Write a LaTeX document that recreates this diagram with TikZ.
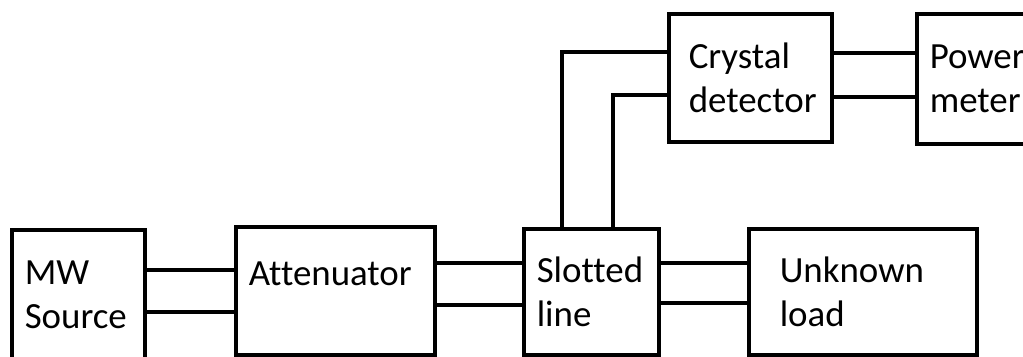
\documentclass[tikz,border=0pt]{standalone}
\usepackage{fontspec}
\setmainfont[Ligatures=NoCommon]{Carlito}
\usepackage{tikz}

\begin{document}
\begin{tikzpicture}[x=0.03cm, y=-0.03cm,
    blk/.style={draw, line width=3pt, anchor=north west, align=left,
      inner xsep=0.39cm, minimum height=3.84cm,
      font=\fontsize{31.5}{38}\selectfont},
    wg/.style={line width=3pt}]
  \useasboundingbox (0,0) rectangle (1023,356);
  % Blocks
  \node[blk, text width=3.21cm, minimum height=3.9cm] (src) at (10,228) {MW\\Source};
  \node[blk, text width=5.19cm] (att) at (234,225) {Attenuator\\[-8pt]\mbox{}};
  \node[blk, text width=3.27cm, minimum height=3.78cm] (sl) at (522,227) {Slotted\\line};
  \node[blk, text width=4.98cm, inner xsep=0.93cm, minimum height=3.78cm] (load) at (747,227) {Unknown\\load};
  \node[blk, text width=3.69cm, inner xsep=0.6cm] (cd) at (667,12) {Crystal\\detector};
  \node[blk, text width=3.57cm, minimum height=3.9cm] (pm) at (915,12) {Power\\meter};
  % Two-wire links along the main line
  \draw[wg] (src.east |- 0,270) -- (att.west |- 0,270);
  \draw[wg] (src.east |- 0,312) -- (att.west |- 0,312);
  \draw[wg] (att.east |- 0,263) -- (sl.west |- 0,263);
  \draw[wg] (att.east |- 0,305) -- (sl.west |- 0,305);
  \draw[wg] (sl.east |- 0,263) -- (load.west |- 0,263);
  \draw[wg] (sl.east |- 0,303) -- (load.west |- 0,303);
  % Probe up to the detector
  \draw[wg] (sl.north -| 562,0) |- (cd.west |- 0,52);
  \draw[wg] (sl.north -| 613,0) |- (cd.west |- 0,95);
  % Detector to meter
  \draw[wg] (cd.east |- 0,53) -- (pm.west |- 0,53);
  \draw[wg] (cd.east |- 0,97) -- (pm.west |- 0,97);
\end{tikzpicture}
\end{document}
